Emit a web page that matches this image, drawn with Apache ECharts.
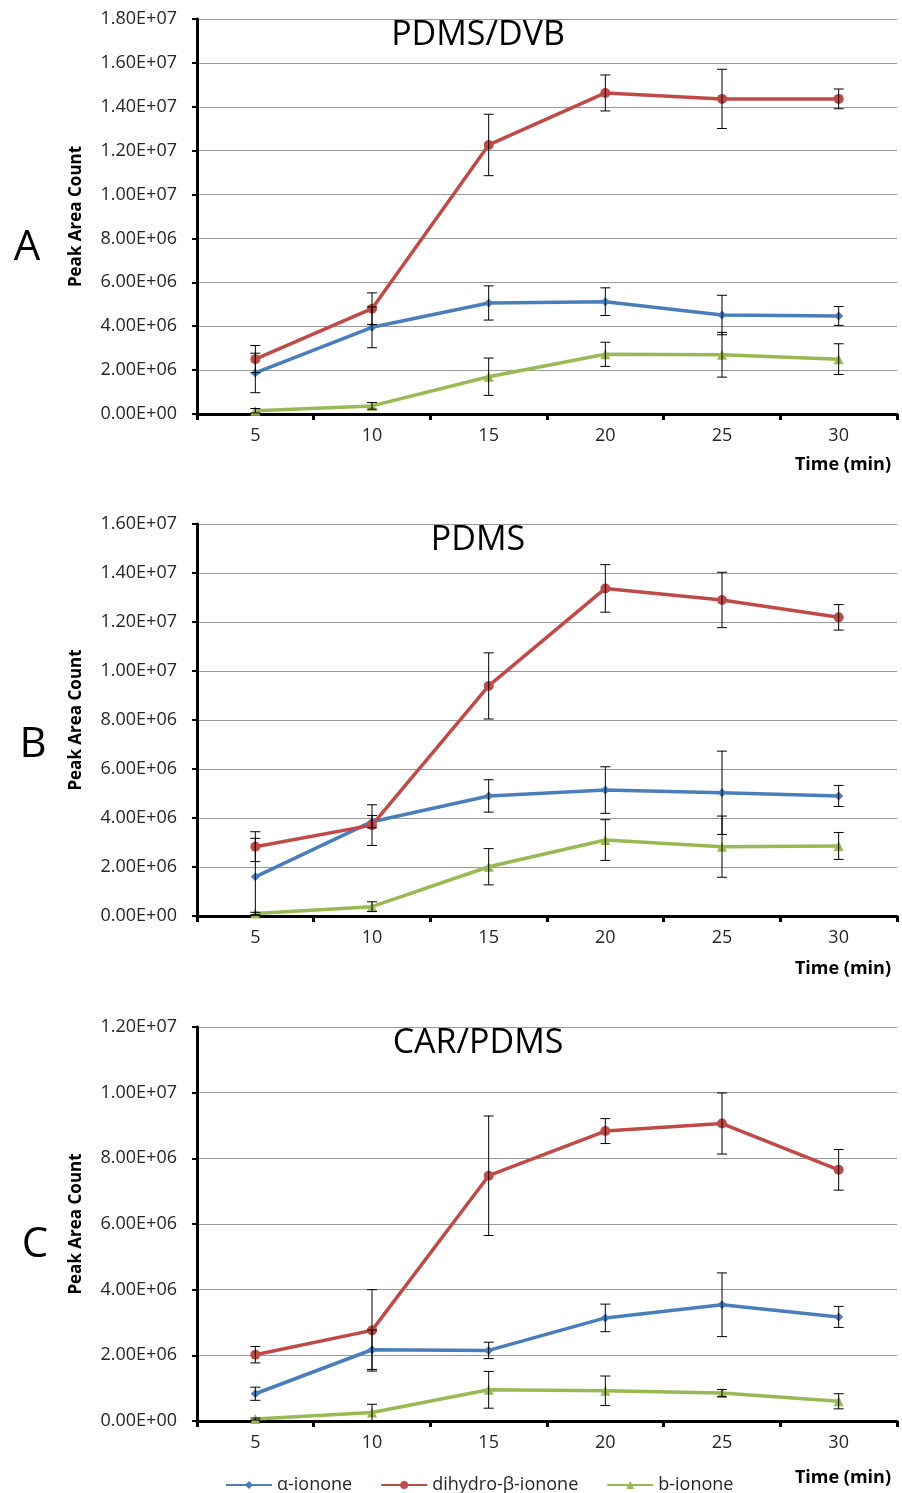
<!DOCTYPE html>
<html>
<head>
<meta charset="utf-8">
<script src="https://cdn.jsdelivr.net/npm/echarts@6/dist/echarts.min.js"></script>
<style>
html,body{margin:0;padding:0;background:#fff;}
#chart{width:902px;height:1493px;}
</style>
</head>
<body>
<div id="chart"></div>
<script>
const times = ['5', '10', '15', '20', '25', '30'];
const seriesNames = ['α-ionone', 'dihydro-β-ionone', 'b-ionone'];
const panelTitles = ['PDMS/DVB', 'PDMS', 'CAR/PDMS'];
const panelLetters = ['A', 'B', 'C'];
const yMaxes = [1.8e7, 1.6e7, 1.2e7];

// Panel A (PDMS/DVB)
const A_alpha = [1.87e6, 3.95e6, 5.06e6, 5.12e6, 4.51e6, 4.47e6];
const A_alphaErr = [0.9e6, 0.93e6, 0.78e6, 0.63e6, 0.9e6, 0.43e6];
const A_dihydro = [2.5e6, 4.8e6, 12.26e6, 14.63e6, 14.36e6, 14.36e6];
const A_dihydroErr = [0.62e6, 0.72e6, 1.4e6, 0.82e6, 1.35e6, 0.45e6];
const A_beta = [0.15e6, 0.37e6, 1.7e6, 2.72e6, 2.7e6, 2.5e6];
const A_betaErr = [0.1e6, 0.15e6, 0.85e6, 0.55e6, 1.02e6, 0.7e6];

// Panel B (PDMS)
const B_alpha = [1.6e6, 3.85e6, 4.9e6, 5.14e6, 5.03e6, 4.9e6];
const B_alphaErr = [1.57e6, 0.25e6, 0.66e6, 0.95e6, 1.7e6, 0.43e6];
const B_dihydro = [2.83e6, 3.71e6, 9.39e6, 13.37e6, 12.9e6, 12.19e6];
const B_dihydroErr = [0.61e6, 0.83e6, 1.35e6, 0.97e6, 1.13e6, 0.52e6];
const B_beta = [0.1e6, 0.38e6, 2.01e6, 3.1e6, 2.83e6, 2.86e6];
const B_betaErr = [0.05e6, 0.2e6, 0.74e6, 0.83e6, 1.25e6, 0.55e6];

// Panel C (CAR/PDMS)
const C_alpha = [0.83e6, 2.17e6, 2.15e6, 3.14e6, 3.54e6, 3.17e6];
const C_alphaErr = [0.2e6, 0.6e6, 0.25e6, 0.42e6, 0.97e6, 0.32e6];
const C_dihydro = [2.02e6, 2.76e6, 7.47e6, 8.83e6, 9.06e6, 7.65e6];
const C_dihydroErr = [0.25e6, 1.24e6, 1.82e6, 0.38e6, 0.93e6, 0.62e6];
const C_beta = [0.06e6, 0.26e6, 0.95e6, 0.92e6, 0.85e6, 0.6e6];
const C_betaErr = [0.03e6, 0.25e6, 0.56e6, 0.45e6, 0.11e6, 0.23e6];

const panels = [
  [[A_alpha, A_alphaErr], [A_dihydro, A_dihydroErr], [A_beta, A_betaErr]],
  [[B_alpha, B_alphaErr], [B_dihydro, B_dihydroErr], [B_beta, B_betaErr]],
  [[C_alpha, C_alphaErr], [C_dihydro, C_dihydroErr], [C_beta, C_betaErr]]
];

const colors = ['#4a7ebb', '#be4b48', '#98b954'];
const symbols = ['diamond', 'circle', 'triangle'];
const symbolSizes = [9, 10, 10];
const FONT = 'Open Sans';

const gridTops = [19, 524, 1027];
const gridHeights = [395, 392, 394];

function sciFmt(v) {
  if (v === 0) return '0.00E+00';
  let s = v.toExponential(2).toUpperCase();
  return s.replace(/E([+-])(\d)$/, 'E$10$2');
}

const grids = [], xAxes = [], yAxes = [], series = [], graphics = [];

panels.forEach((panel, p) => {
  grids.push({ left: 197, width: 700, top: gridTops[p], height: gridHeights[p] });
  xAxes.push({
    type: 'category', gridIndex: p, data: times, boundaryGap: true,
    axisLine: { lineStyle: { color: '#000', width: 3 } },
    axisTick: { show: true, interval: 0, length: 6, lineStyle: { color: '#000', width: 3 } },
    axisLabel: { color: '#262626', fontSize: 18, fontFamily: FONT, margin: 13 },
    splitLine: { show: false }
  });
  yAxes.push({
    type: 'value', gridIndex: p, min: 0, max: yMaxes[p], interval: 2e6,
    name: 'Peak Area Count', nameLocation: 'middle', nameGap: 112, nameRotate: 90,
    nameTextStyle: { fontSize: 17, fontWeight: 'bold', color: '#000', fontFamily: FONT },
    axisLine: { show: true, lineStyle: { color: '#000', width: 3 } },
    axisTick: { show: true, length: 5, lineStyle: { color: '#000', width: 2 } },
    axisLabel: { color: '#262626', fontSize: 18, fontFamily: FONT, margin: 20, formatter: sciFmt },
    splitLine: { show: true, lineStyle: { color: '#9a9a9a', width: 1 } }
  });
  panel.forEach((pair, s) => {
    const vals = pair[0], errs = pair[1];
    series.push({
      type: 'line', name: seriesNames[s], xAxisIndex: p, yAxisIndex: p,
      data: vals, symbol: symbols[s], symbolSize: symbolSizes[s], showSymbol: true,
      lineStyle: { color: colors[s], width: 3.5 },
      itemStyle: { color: colors[s] }, z: 2, animation: false
    });
    series.push({
      type: 'custom', name: seriesNames[s] + ' err', xAxisIndex: p, yAxisIndex: p,
      data: vals.map((v, i) => [i, v - errs[i], v + errs[i]]),
      encode: { x: 0, y: [1, 2] }, z: 5, silent: true, animation: false,
      renderItem: function (params, api) {
        const lo = api.coord([api.value(0), api.value(1)]);
        const hi = api.coord([api.value(0), api.value(2)]);
        const w = 5;
        const st = { stroke: '#000', lineWidth: 1 };
        return {
          type: 'group', children: [
            { type: 'line', shape: { x1: hi[0], y1: hi[1], x2: lo[0], y2: lo[1] }, style: st },
            { type: 'line', shape: { x1: hi[0] - w, y1: hi[1], x2: hi[0] + w, y2: hi[1] }, style: st },
            { type: 'line', shape: { x1: lo[0] - w, y1: lo[1], x2: lo[0] + w, y2: lo[1] }, style: st }
          ]
        };
      }
    });
  });
});

const titleY = [35, 540, 1043];
const letterY = [248, 745, 1245];
const letterX = [27, 33, 35];
const timeY = [465, 969, 1478];
panels.forEach((panel, p) => {
  graphics.push({ type: 'text', x: 478, y: titleY[p],
    style: { text: panelTitles[p], font: '34px "' + FONT + '"', fill: '#000', textAlign: 'center', textVerticalAlign: 'middle' } });
  graphics.push({ type: 'text', x: letterX[p], y: letterY[p],
    style: { text: panelLetters[p], font: '42px "' + FONT + '"', fill: '#000', textAlign: 'center', textVerticalAlign: 'middle' } });
  graphics.push({ type: 'text', x: 891, y: timeY[p],
    style: { text: 'Time (min)', font: 'bold 18px "' + FONT + '"', fill: '#000', textAlign: 'right', textVerticalAlign: 'middle' } });
});

const chart = echarts.init(document.getElementById('chart'), null, { renderer: 'canvas' });
chart.setOption({
  animation: false,
  backgroundColor: '#fff',
  grid: grids, xAxis: xAxes, yAxis: yAxes, series: series,
  legend: {
    data: seriesNames, left: 220, top: 1471, itemWidth: 46, itemHeight: 10, itemGap: 28,
    textStyle: { fontSize: 18, color: '#262626', fontFamily: FONT }
  },
  graphic: graphics
});
</script>
</body>
</html>
